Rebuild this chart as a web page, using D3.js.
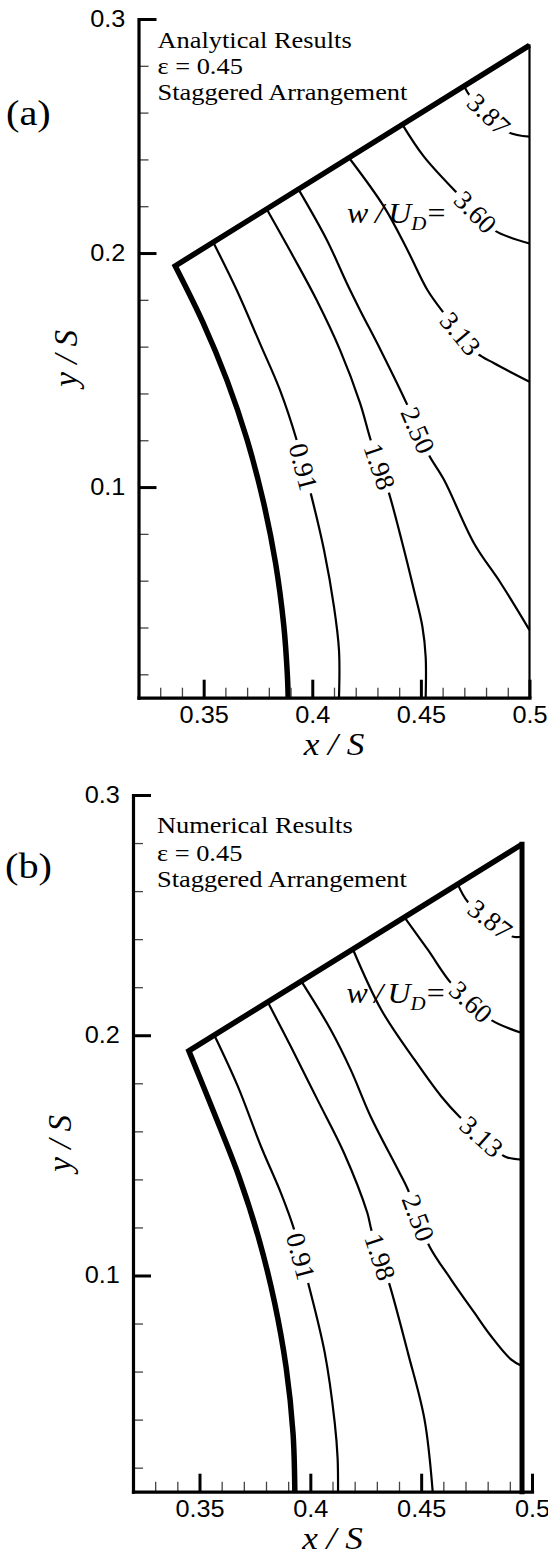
<!DOCTYPE html>
<html lang="en">
  <head>
    <meta charset="UTF-8" />
    <title>Velocity contours</title>
    <style>
      body { margin: 0; background: #fff; }
      svg { display: block; }
    </style>
  </head>
  <body>
    <script src="https://d3js.org/d3.v7.min.js"></script>
    <script>
      // contour levels w/U_D, same order as the contour arrays below
      const levels = ["0.91", "1.98", "2.50", "3.13", "3.60", "3.87"];
      const xMajor = [0.35, 0.4, 0.45, 0.5];
      const xMinor = [0.33, 0.34, 0.36, 0.37, 0.38, 0.39, 0.41, 0.42, 0.43, 0.44, 0.46, 0.47, 0.48, 0.49];
      const yMajor = [0.1, 0.2, 0.3];
      const yMinor = [0.02, 0.04, 0.06, 0.08, 0.12, 0.14, 0.16, 0.18, 0.22, 0.24, 0.26, 0.28];

      const notesA = ["Analytical Results", "ε = 0.45", "Staggered Arrangement"];
      const notesB = ["Numerical Results", "ε = 0.45", "Staggered Arrangement"];

      // (a) analytical: domain boundary
      const arcA = [[0.3369, 0.1945], [0.3496, 0.1705], [0.3607, 0.1457], [0.37, 0.1202], [0.3774, 0.0941], [0.3831, 0.0675], [0.3869, 0.0407], [0.3885, 0.0203], [0.3889, 0.01]];
      const topA = [[0.3369, 0.1945], [0.5, 0.2887]];
      const rightA = [[0.5, 0.2887], [0.5, 0.01]];

      // (a) contours
      const a091 = [[0.3544, 0.2046], [0.3652, 0.1842], [0.3759, 0.1614], [0.3851, 0.1415], [0.3928, 0.1201], [0.396, 0.1087], [0.3993, 0.0973], [0.4054, 0.0731], [0.41, 0.0488], [0.4123, 0.0303], [0.4123, 0.01]];
      const a198 = [[0.379, 0.2188], [0.3913, 0.1984], [0.402, 0.1799], [0.4128, 0.1585], [0.422, 0.1359], [0.4269, 0.1201], [0.4311, 0.1088], [0.4353, 0.0974], [0.4415, 0.0759], [0.4468, 0.056], [0.4507, 0.0403], [0.4522, 0.0275], [0.4522, 0.01]];
      const a250 = [[0.3936, 0.2273], [0.4067, 0.2056], [0.4159, 0.1871], [0.422, 0.1756], [0.4315, 0.1585], [0.4438, 0.135], [0.4487, 0.1243], [0.4537, 0.1137], [0.4607, 0.103], [0.4745, 0.0759], [0.4868, 0.0589], [0.5, 0.0389]];
      const a313 = [[0.4169, 0.2407], [0.433, 0.2198], [0.4438, 0.2013], [0.453, 0.1842], [0.4607, 0.1742], [0.4683, 0.1656], [0.476, 0.1571], [0.4837, 0.1529], [0.5, 0.145]];
      const a360 = [[0.4415, 0.2549], [0.4514, 0.2412], [0.4668, 0.2255], [0.4752, 0.2176], [0.4837, 0.2098], [0.5, 0.2041]];
      const a387 = [[0.4699, 0.2713], [0.4729, 0.2668], [0.4813, 0.2593], [0.4898, 0.2518], [0.5, 0.2497]];
      const labelIdxA = [5, 6, 6, 5, 3, 2];

      // (b) numerical: domain boundary
      const arcB = [[0.3452, 0.1935], [0.3571, 0.1665], [0.3678, 0.1412], [0.3768, 0.1152], [0.3839, 0.0886], [0.3891, 0.0616], [0.3922, 0.0343], [0.393, 0.01]];
      const topB = [[0.3452, 0.1935], [0.4955, 0.2795]];
      const rightB = [[0.4955, 0.2795], [0.4955, 0.01]];

      // (b) contours
      const b091 = [[0.3567, 0.2], [0.3673, 0.1787], [0.3777, 0.1538], [0.3867, 0.1344], [0.3927, 0.1191], [0.3958, 0.108], [0.399, 0.097], [0.4065, 0.0679], [0.411, 0.0388], [0.4123, 0.024], [0.4125, 0.01]];
      const b198 = [[0.3808, 0.2138], [0.3912, 0.1953], [0.4032, 0.1732], [0.4152, 0.151], [0.4257, 0.1261], [0.4275, 0.1191], [0.4316, 0.1077], [0.4357, 0.0963], [0.444, 0.0679], [0.4515, 0.0401], [0.4552, 0.01]];
      const b250 = [[0.3959, 0.2225], [0.4092, 0.2023], [0.4182, 0.1857], [0.4272, 0.1662], [0.4395, 0.1441], [0.444, 0.1358], [0.4488, 0.124], [0.4537, 0.1122], [0.4635, 0.0983], [0.474, 0.0845], [0.4815, 0.0748], [0.4905, 0.0651], [0.4955, 0.0623]];
      const b313 = [[0.4192, 0.2358], [0.432, 0.2106], [0.447, 0.1898], [0.459, 0.1746], [0.4672, 0.1662], [0.4773, 0.1579], [0.4875, 0.1496], [0.4955, 0.1482]];
      const b360 = [[0.4425, 0.2491], [0.453, 0.2356], [0.4635, 0.2217], [0.4725, 0.214], [0.4815, 0.2064], [0.4955, 0.2009]];
      const b387 = [[0.4665, 0.2629], [0.471, 0.2556], [0.4811, 0.2483], [0.4912, 0.2411], [0.4955, 0.2411]];
      const labelIdxB = [5, 6, 6, 5, 3, 2];

      // where the "w / U_D =" caption sits (data units)
      const captionA = [0.416, 0.2128];
      const captionB = [0.4163, 0.2134];

      const serif = "'Liberation Serif', 'Times New Roman', serif";
      const sans = "'Liberation Sans', Arial, sans-serif";
      const SX = 1.1; // the figure is slightly wider than tall

      const svg = d3.select("body").append("svg").attr("width", 548).attr("height", 1555);

      const panels = [
        {
          tag: "(a)", tagPos: [6, 125], notes: notesA, noteX: 19, noteY: [29, 55, 81],
          arc: arcA, top: topA, right: rightA, rightWidth: 2.2,
          contours: [a091, a198, a250, a313, a360, a387], labelIdx: labelIdxA, caption: captionA,
          box: { l: 138.5, r: 529.5, t: 19, b: 697.7 },
        },
        {
          tag: "(b)", tagPos: [5, 878], notes: notesB, noteX: 24, noteY: [38, 66, 92],
          arc: arcB, top: topB, right: rightB, rightWidth: 5,
          contours: [b091, b198, b250, b313, b360, b387], labelIdx: labelIdxB, caption: captionB,
          box: { l: 133, r: 532, t: 795, b: 1491.7 },
        },
      ];

      function drawPanel(p) {
        const x = d3.scaleLinear().domain([0.32, 0.5]).range([p.box.l, p.box.r]);
        const y = d3.scaleLinear().domain([0.01, 0.3]).range([p.box.b, p.box.t]);
        const straight = d3.line().x((d) => x(d[0])).y((d) => y(d[1]));
        const smooth = d3.line().x((d) => x(d[0])).y((d) => y(d[1])).curve(d3.curveCatmullRom.alpha(0.5));

        const g = svg.append("g");

        // contour lines
        g.append("g")
          .selectAll("path")
          .data(p.contours)
          .join("path")
          .attr("d", smooth)
          .attr("fill", "none")
          .attr("stroke", "#000")
          .attr("stroke-width", 2.2);

        // contour labels, with a white patch that breaks the line
        p.contours.forEach((c, i) => {
          const k = p.labelIdx[i];
          const a = c[k - 1], b = c[k + 1], m = c[k];
          const ang = (Math.atan2(y(b[1]) - y(a[1]), x(b[0]) - x(a[0])) * 180) / Math.PI;
          const lg = g.append("g").attr("transform", `translate(${x(m[0])},${y(m[1])}) rotate(${ang})`);
          const patch = lg.append("rect").attr("fill", "#fff");
          const t = lg.append("text")
            .text(levels[i])
            .attr("text-anchor", "middle")
            .attr("dy", "0.35em")
            .attr("font-family", serif)
            .attr("font-size", 27);
          const len = t.node().getComputedTextLength();
          patch.attr("x", -len / 2 - 4).attr("width", len + 8).attr("y", -9).attr("height", 18);
        });

        // domain boundary: symmetry line + cylinder surface, then the right edge
        const tr = p.top[1];
        g.append("path")
          .attr("d", `M${x(tr[0])},${y(tr[1])}L` + smooth(p.arc).substring(1))
          .attr("fill", "none")
          .attr("stroke", "#000")
          .attr("stroke-width", 5.5)
          .attr("stroke-linejoin", "miter");
        g.append("path")
          .attr("d", straight(p.right))
          .attr("fill", "none")
          .attr("stroke", "#000")
          .attr("stroke-width", p.rightWidth)
          .attr("stroke-linecap", "square");

        // caption w / U_D =
        const cap = g.append("text")
          .attr("transform", `translate(${x(p.caption[0])},${y(p.caption[1])}) scale(${SX},1)`)
          .attr("font-family", serif)
          .attr("font-size", 29);
        cap.append("tspan").attr("font-style", "italic").text("w");
        cap.append("tspan").attr("dx", 6).attr("font-style", "italic").text("/");
        cap.append("tspan").attr("dx", 4).attr("font-style", "italic").text("U");
        cap.append("tspan").attr("font-style", "italic").attr("font-size", 19).attr("dy", 7).text("D");
        cap.append("tspan").attr("dy", -7).attr("dx", 1).text("=");

        // axes
        const xAxisMajor = d3.axisBottom(x).tickValues(xMajor).tickSize(-18).tickSizeOuter(0).tickPadding(9).tickFormat((d) => String(d));
        const xAxisMinor = d3.axisBottom(x).tickValues(xMinor).tickSize(-10).tickSizeOuter(0).tickFormat("");
        const yAxisMajor = d3.axisLeft(y).tickValues(yMajor).tickSize(-18).tickSizeOuter(0).tickPadding(12).tickFormat((d) => String(d));
        const yAxisMinor = d3.axisLeft(y).tickValues(yMinor).tickSize(-10).tickSizeOuter(0).tickFormat("");

        const minorStyle = (sel) => {
          sel.select(".domain").remove();
          sel.selectAll(".tick line").attr("stroke", "#444").attr("stroke-width", 1.3);
        };
        const majorStyle = (sel) => {
          sel.select(".domain").attr("stroke-width", 3.2).attr("stroke-linecap", "square");
          sel.selectAll(".tick line").attr("stroke-width", 3);
          sel.selectAll(".tick text")
            .attr("font-family", sans)
            .attr("font-size", 23)
            .attr("fill", "#000")
            .attr("transform", `scale(${SX},1)`);
        };

        g.append("g").attr("transform", `translate(0,${p.box.b})`).call(xAxisMinor).call(minorStyle);
        g.append("g").attr("transform", `translate(${p.box.l},0)`).call(yAxisMinor).call(minorStyle);
        g.append("g").attr("transform", `translate(0,${p.box.b})`).call(xAxisMajor).call(majorStyle);
        g.append("g").attr("transform", `translate(${p.box.l},0)`).call(yAxisMajor).call(majorStyle);

        // axis titles
        g.append("text")
          .attr("transform", `translate(${(p.box.l + p.box.r) / 2},${p.box.b + 57}) scale(${SX},1)`)
          .attr("text-anchor", "middle")
          .attr("font-family", serif)
          .attr("font-style", "italic")
          .attr("font-size", 32)
          .text("x / S");
        g.append("text")
          .attr("transform", `translate(${p.box.l - 62},${(p.box.t + p.box.b) / 2}) rotate(-90)`)
          .attr("text-anchor", "middle")
          .attr("font-family", serif)
          .attr("font-style", "italic")
          .attr("font-size", 33)
          .text("y / S");

        // panel tag and notes
        g.append("text")
          .attr("transform", `translate(${p.tagPos[0]},${p.tagPos[1]}) scale(1.12,1)`)
          .attr("font-family", serif)
          .attr("font-size", 36)
          .text(p.tag);
        p.notes.forEach((s, i) => {
          g.append("text")
            .attr("transform", `translate(${p.box.l + p.noteX},${p.box.t + p.noteY[i]}) scale(${SX},1)`)
            .attr("font-family", serif)
            .attr("font-size", 24)
            .text(s);
        });
      }

      panels.forEach(drawPanel);
    </script>
  </body>
</html>
